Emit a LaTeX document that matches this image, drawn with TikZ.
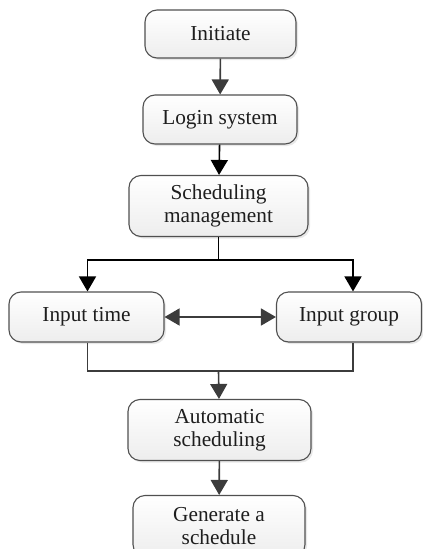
\documentclass[tikz,border=0pt]{standalone}
\usepackage{fontspec}
\setmainfont{Liberation Serif}
\usetikzlibrary{arrows.meta,shadows}
\definecolor{edgegray}{HTML}{505050}
\definecolor{arrgray}{HTML}{3C3C3C}
\definecolor{txt}{HTML}{1E1E1E}
\tikzset{
  box/.style={draw=edgegray, line width=1.1pt, rounded corners=12pt,
    top color=white, bottom color=gray!14, text=txt,
    drop shadow={shadow xshift=2pt, shadow yshift=-2pt, opacity=0.18, fill=gray},
    align=center, inner sep=0pt,
    font=\fontsize{21.3}{23}\selectfont},
  tip/.tip={Triangle[length=15pt,width=17pt]},
  arr/.style={line width=1.6pt, -tip},
  ln/.style={line width=1.6pt},
}
\begin{document}
\begin{tikzpicture}[x=1pt,y=-1pt]
\useasboundingbox (0,0) rectangle (423,549);
\node[box, minimum width=151pt, minimum height=48pt] (init) at (220.5,34) {Initiate};
\node[box, minimum width=154pt, minimum height=49pt] (login) at (220,119.5) {Login system};
\node[box, minimum width=179pt, minimum height=61pt] (sched) at (218.5,206) {Scheduling\\management};
\node[box, minimum width=155pt, minimum height=50pt] (time) at (86.5,317) {Input time};
\node[box, minimum width=145pt, minimum height=50pt] (group) at (349,317) {Input group};
\node[box, minimum width=183pt, minimum height=61pt] (auto) at (219.5,430) {Automatic\\scheduling};
\node[box, minimum width=172pt, minimum height=61pt] (gen) at (219,526) {Generate a\\schedule};

\coordinate (split) at (218.5,260);
\coordinate (merge) at (218.5,371);

\draw[arr, arrgray] (init) -- (login);
\draw[arr, black] (login) -- (sched);
\draw[ln, black] (sched) -- (split);
\draw[arr, black] (split) -| ([xshift=1pt]time.north);
\draw[arr, black] (split) -| ([xshift=4pt]group.north);
\draw[line width=1.6pt, arrgray, tip-tip] (time) -- (group);
\draw[ln, arrgray] ([xshift=1pt]time.south) |- (merge) -| ([xshift=4pt]group.south);
\draw[arr, arrgray] (merge) -- (auto);
\draw[arr, arrgray] (auto) -- (gen);
\end{tikzpicture}
\end{document}
